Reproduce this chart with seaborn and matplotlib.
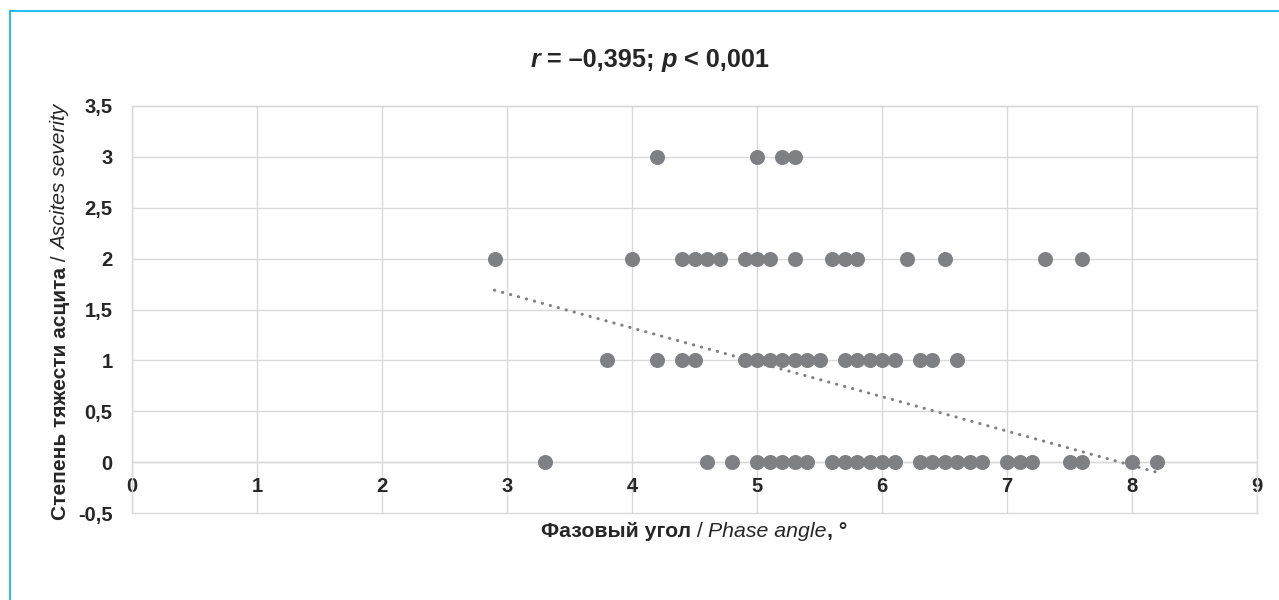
import numpy as np
import pandas as pd
import matplotlib
matplotlib.use("Agg")
import matplotlib.pyplot as plt
from matplotlib.lines import Line2D
import seaborn as sns

# Phase angle (degrees) of patients at each ascites severity grade
angle_grade0 = [3.3, 4.6, 4.8, 5.0, 5.1, 5.2, 5.3, 5.4, 5.6, 5.7, 5.8, 5.9, 6.0, 6.1,
                6.3, 6.4, 6.5, 6.6, 6.7, 6.8, 7.0, 7.1, 7.2, 7.5, 7.6, 8.0, 8.2]
angle_grade1 = [3.8, 4.2, 4.4, 4.5, 4.9, 5.0, 5.1, 5.2, 5.3, 5.4, 5.5, 5.7, 5.8, 5.9,
                6.0, 6.1, 6.3, 6.4, 6.6]
angle_grade2 = [2.9, 4.0, 4.4, 4.5, 4.6, 4.7, 4.9, 5.0, 5.1, 5.3, 5.6, 5.7, 5.8, 6.2,
                6.5, 7.3, 7.6]
angle_grade3 = [4.2, 5.0, 5.2, 5.3]
grades = [0, 1, 2, 3]

# Linear trend over the full patient sample (endpoints of the fitted line)
trend_angle = [2.9, 8.2]
trend_severity = [1.69, -0.10]

x_ticks = list(range(0, 10))
x_tick_labels = [str(v) for v in x_ticks]
y_ticks = [-0.5, 0, 0.5, 1, 1.5, 2, 2.5, 3, 3.5]
y_tick_labels = ["-0,5", "0", "0,5", "1", "1,5", "2", "2,5", "3", "3,5"]

title_runs = [("r", "bold", "italic"), (" = –0,395; ", "bold", "normal"),
              ("p", "bold", "italic"), (" < 0,001", "bold", "normal")]
xlabel_runs = [("Фазовый угол", "bold", "normal"), (" / ", "normal", "normal"),
               ("Phase angle", "normal", "italic"), (", °", "bold", "normal")]
ylabel_runs = [("Степень тяжести асцита", "bold", "normal"), (" / ", "normal", "normal"),
               ("Ascites severity", "normal", "italic")]

angles = angle_grade0 + angle_grade1 + angle_grade2 + angle_grade3
severity = ([grades[0]] * len(angle_grade0) + [grades[1]] * len(angle_grade1)
            + [grades[2]] * len(angle_grade2) + [grades[3]] * len(angle_grade3))
df = pd.DataFrame({"angle": angles, "severity": severity})
trend = pd.DataFrame({"angle": trend_angle, "severity": trend_severity})

sns.set_style("white")
FAMILY = ["Liberation Sans", "DejaVu Sans"]
plt.rcParams["font.family"] = FAMILY
TEXT = "#262626"
GRID = "#d9d9d9"
POINT = "#7f8084"

W, H = 1279, 600
fig = plt.figure(figsize=(W / 100, H / 100), dpi=100)
ax = fig.add_axes([132 / W, 1 - 513 / H, (1257 - 132) / W, (513 - 106) / H])

sns.scatterplot(data=df, x="angle", y="severity", ax=ax, s=117, color=POINT,
                linewidth=0, zorder=3, legend=False)
sns.lineplot(data=trend, x="angle", y="severity", ax=ax, color=POINT, lw=2.2,
             linestyle=(0, (0.1, 2.6)), dash_capstyle="round", zorder=4)

ax.set_xlim(0, 9)
ax.set_ylim(-0.5, 3.5)
ax.set_xticks(x_ticks)
ax.set_xticklabels(x_tick_labels)
ax.set_yticks(y_ticks)
ax.set_yticklabels(y_tick_labels)
ax.set_xlabel("")
ax.set_ylabel("")
ax.grid(True, color=GRID, lw=1.0)
for gl in ax.get_xgridlines() + ax.get_ygridlines():
    gl.set_clip_on(False)
ax.set_axisbelow(True)

for name, sp in ax.spines.items():
    sp.set_color(GRID)
    sp.set_linewidth(1.0)
ax.spines["bottom"].set_position(("data", 0))

ax.tick_params(axis="both", length=0, labelsize=14.5, labelcolor=TEXT)
ax.tick_params(axis="x", pad=11)
ax.tick_params(axis="y", pad=14)
for lab in ax.get_xticklabels() + ax.get_yticklabels():
    lab.set_fontweight("bold")


def place_runs(runs, x, y, size, rotation=0):
    """Lay out differently styled text pieces end to end, centred on (x, y) in pixels."""
    renderer = fig.canvas.get_renderer()
    probe_kw = dict(fontsize=size, family=FAMILY)

    def width(s, weight, style):
        a = fig.text(0, 0, "x" + s + "x", fontweight=weight, fontstyle=style, **probe_kw)
        b = fig.text(0, 0, "xx", fontweight=weight, fontstyle=style, **probe_kw)
        w = a.get_window_extent(renderer).width - b.get_window_extent(renderer).width
        a.remove()
        b.remove()
        return w

    widths = [width(s, wt, st) for s, wt, st in runs]
    total = sum(widths)
    pos = -total / 2
    for (s, wt, st), w in zip(runs, widths):
        if rotation == 0:
            px, py = x + pos, y
        else:
            px, py = x, y + pos
        fig.text(px, py, s, fontweight=wt, fontstyle=st, color=TEXT, fontsize=size,
                 family=FAMILY, rotation=rotation, rotation_mode="anchor",
                 ha="left", va="baseline", transform=None)
        pos += w


place_runs(title_runs, 650, H - 67, 18.2)
place_runs(xlabel_runs, 694, H - 537, 15.3)
place_runs(ylabel_runs, 66, H - 312, 15, rotation=90)

# frame lines along the top and left edge of the figure
BLUE = "#00b0f0"
fig.add_artist(Line2D([9.5 / W, 1], [1 - 10.5 / H, 1 - 10.5 / H], color=BLUE, lw=1.2,
                      transform=fig.transFigure))
fig.add_artist(Line2D([9.5 / W, 9.5 / W], [0, 1 - 10.5 / H], color=BLUE, lw=1.2,
                      transform=fig.transFigure))

fig.savefig("out.png", dpi=100)
